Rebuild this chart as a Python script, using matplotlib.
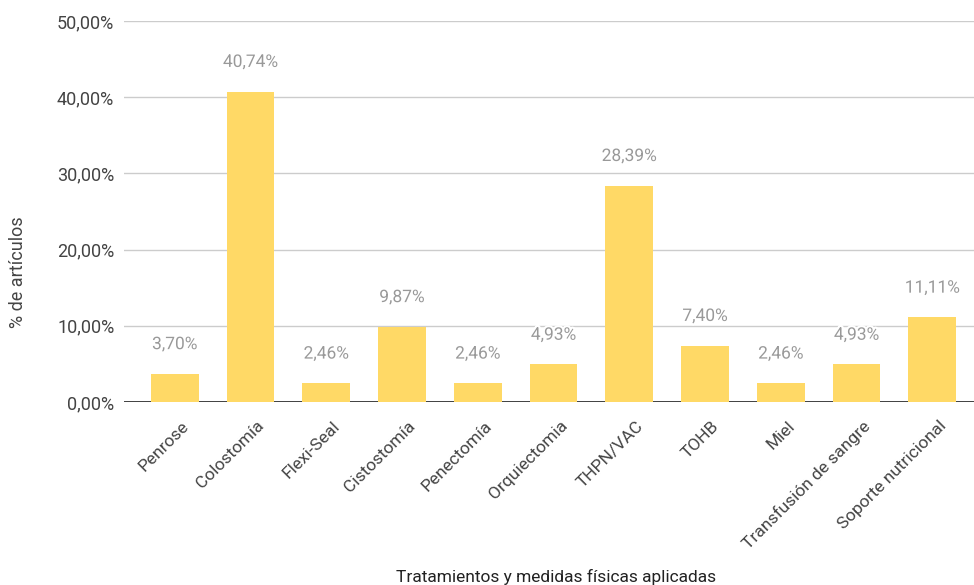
import matplotlib.pyplot as plt
import matplotlib.patheffects as pe
from matplotlib.ticker import FuncFormatter
from matplotlib.transforms import ScaledTranslation

plt.rcParams['font.family'] = ['Roboto', 'DejaVu Sans']

# Datos: tratamientos y porcentaje de artículos
tratamientos = ["Penrose", "Colostomía", "Flexi-Seal", "Cistostomía", "Penectomía",
                "Orquiectomia", "THPN/VAC", "TOHB", "Miel", "Transfusión de sangre",
                "Soporte nutricional"]
porcentajes = [3.70, 40.74, 2.46, 9.87, 2.46, 4.93, 28.39, 7.40, 2.46, 4.93, 11.11]
y_ticks = [0, 10, 20, 30, 40, 50]

fig = plt.figure(figsize=(9.74, 5.85), dpi=100)
ax = fig.add_axes([124 / 974, 1 - 402 / 585, 850 / 974, 381 / 585])

x = range(len(tratamientos))
ax.bar(x, porcentajes, width=0.63, color="#ffd966", zorder=3)

# etiquetas de valor encima de cada barra
for i, v in zip(x, porcentajes):
    ax.annotate(f"{v:.2f}%".replace(".", ","), (i, v), textcoords="offset points",
                xytext=(0, 21), ha="center", va="center", fontsize=12.5, color="#999999",
                zorder=4, path_effects=[pe.withStroke(linewidth=3, foreground="white")])

ax.set_ylim(0, 50)
ax.set_xlim(-0.67, 10.55)
ax.set_yticks(y_ticks)
ax.yaxis.set_major_formatter(FuncFormatter(lambda v, p: f"{v:.2f}%".replace(".", ",")))
ax.grid(axis="y", color="#cccccc", linewidth=1, zorder=0)
ax.axhline(0, color="#333333", linewidth=1.3, zorder=2)
for s in ax.spines.values():
    s.set_visible(False)
ax.tick_params(axis="y", length=0, pad=7, labelsize=13, labelcolor="#444444")
ax.tick_params(axis="x", length=0, pad=6, labelsize=12.5, labelcolor="#444444")
ax.set_xticks(list(x))
ax.set_xticklabels(tratamientos, rotation=45, ha="right", rotation_mode="anchor")
for lbl in ax.get_xticklabels():
    lbl.set_transform(lbl.get_transform() + ScaledTranslation(6 / 100, -8 / 100,
                                                              fig.dpi_scale_trans))

fig.text(18 / 974, 1 - 272 / 585, "% de artículos", rotation=90, ha="center", va="center",
         fontsize=13, color="#444444")
fig.text(556 / 974, 1 - 577 / 585, "Tratamientos y medidas físicas aplicadas",
         ha="center", va="center", fontsize=12.5, color="#222222")

fig.savefig("out.png", dpi=100)
